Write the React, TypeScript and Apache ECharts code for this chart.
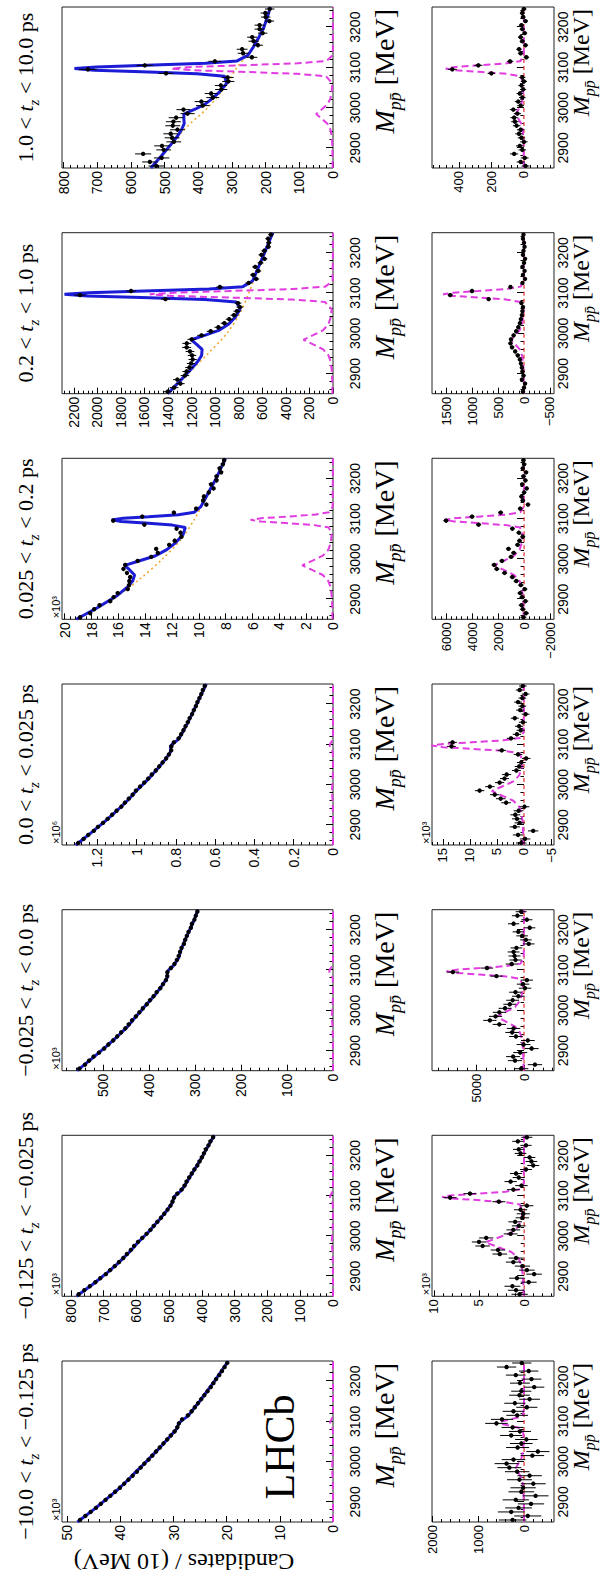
import React, { useEffect, useRef } from "react";
import * as echarts from "echarts";

// ---------------- data ----------------
const BIN_M = [2855, 2865, 2875, 2885, 2895, 2905, 2915, 2925, 2935, 2945, 2955, 2965, 2975, 2985, 2995, 3005, 3015, 3025, 3035, 3045, 3055, 3065, 3075, 3085, 3095, 3105, 3115, 3125, 3135, 3145, 3155, 3165, 3175, 3185, 3195, 3205, 3215, 3225, 3235, 3245];
const CURVE_M = [2850, 2880, 2910, 2930, 2945, 2960, 2972, 2984, 2996, 3008, 3023, 3040, 3060, 3078, 3084, 3089, 3093, 3097, 3101, 3105, 3110, 3116, 3130, 3150, 3175, 3200, 3225, 3250];
const BKG_M = [2850, 2900, 2950, 3000, 3050, 3100, 3150, 3200, 3250];
const M_TICKS = [2900, 3000, 3100, 3200];

const T_LOW = ["\u221210.0", "\u22120.125", "\u22120.025", "0.0", "0.025", "0.2", "1.0"];
const T_HIGH = ["\u22120.125", "\u22120.025", "0.0", "0.025", "0.2", "1.0", "10.0"];

const UP_MAX = [51, 827, 590, 1.38, 20.2, 2300, 805];
const UP_TICKS = [
  [0, 10, 20, 30, 40, 50],
  [0, 100, 200, 300, 400, 500, 600, 700, 800],
  [0, 100, 200, 300, 400, 500],
  [0, 0.2, 0.4, 0.6, 0.8, 1, 1.2],
  [0, 2, 4, 6, 8, 10, 12, 14, 16, 18, 20],
  [0, 200, 400, 600, 800, 1000, 1200, 1400, 1600, 1800, 2000, 2200],
  [0, 100, 200, 300, 400, 500, 600, 700, 800],
];
const UP_MULT = ["\u00d710\u00b3", "\u00d710\u00b3", "\u00d710\u00b3", "\u00d710\u2076", "\u00d710\u00b3", "", ""];

const LO_MIN = [-650, -3.3, -3160, -5.55, -2300, -577, -185];
const LO_MAX = [2000, 10.2, 9700, 17.0, 7080, 1770, 565];
const LO_TICKS = [
  [0, 1000, 2000],
  [0, 5, 10],
  [0, 5000],
  [-5, 0, 5, 10, 15],
  [-2000, 0, 2000, 4000, 6000],
  [-500, 0, 500, 1000, 1500],
  [0, 200, 400],
];
const LO_MULT = ["", "\u00d710\u00b3", "", "\u00d710\u00b3", "", "", ""];

// upper panels: data points
const UP_DATA_0 = [47.6, 46.6, 45.6, 44.6, 43.7, 42.8, 41.9, 41.0, 40.1, 39.3, 38.5, 37.7, 36.9, 36.2, 35.5, 34.7, 34.0, 33.3, 32.6, 31.9, 31.2, 30.5, 29.8, 29.3, 29.0, 28.4, 27.3, 26.6, 26.0, 25.4, 24.8, 24.2, 23.6, 23.0, 22.5, 22.0, 21.4, 20.9, 20.4, 19.9];
const UP_DATA_1 = [776, 759, 742, 725, 710, 693, 680, 666, 653, 640, 629, 617, 607, 595, 582, 569, 557, 547, 536, 525, 515, 505, 496, 490, 485, 475, 462, 453, 447, 439, 431, 423, 414, 407, 400, 394, 388, 380, 374, 366];
const UP_DATA_2 = [552.3, 539.9, 531.0, 521.2, 509.4, 498.2, 489.1, 478.6, 469.9, 461.3, 452.1, 444.6, 437.6, 429.0, 421.6, 414.0, 405.5, 398.2, 390.6, 383.9, 375.9, 370.1, 363.7, 360.9, 360.5, 352.9, 345.3, 339.9, 336.0, 333.1, 329.8, 324.5, 321.8, 318.2, 314.6, 309.4, 307.1, 301.7, 298.7, 295.3];
const UP_DATA_3 = [1.2976, 1.2698, 1.2463, 1.218, 1.197, 1.1709, 1.1475, 1.1249, 1.1022, 1.0779, 1.0599, 1.04, 1.0203, 1.0036, 0.9824, 0.9613, 0.9412, 0.9228, 0.9026, 0.885, 0.8676, 0.8495, 0.8353, 0.8238, 0.8228, 0.8105, 0.7858, 0.7735, 0.7617, 0.7511, 0.7392, 0.73, 0.7176, 0.7088, 0.6983, 0.6903, 0.6804, 0.6707, 0.6629, 0.6532];
const UP_DATA_4 = [18.85, 18.1, 17.8, 17.4, 16.6, 16.35, 16.05, 15.3, 15.2, 15.18, 15.12, 15.36, 15.62, 15.49, 14.56, 13.55, 13.06, 13.18, 12.21, 11.8, 11.3, 11.37, 11.66, 14.06, 16.38, 14.22, 11.86, 10.2, 9.44, 9.68, 9.62, 9.26, 8.9, 9.09, 8.68, 8.68, 8.34, 8.45, 8.21, 8.12];
const UP_DATA_5 = [1403, 1349, 1295, 1321, 1257, 1243, 1219, 1205, 1191, 1197, 1214, 1242, 1241, 1199, 1116, 1038, 973, 922, 881, 840, 815, 790, 806, 1422, 2147, 1714, 960, 716, 652, 678, 634, 660, 615, 581, 607, 583, 549, 545, 551, 527];
const UP_DATA_6 = [525, 544, 509, 564, 503, 508, 473, 478, 482, 462, 476, 474, 466, 432, 444, 387, 391, 357, 362, 332, 333, 311, 313, 496, 728, 559, 351, 241, 267, 270, 223, 236, 240, 209, 218, 218, 189, 200, 201, 188];

const UP_ERR_4 = [0.14, 0.14, 0.14, 0.14, 0.13, 0.13, 0.13, 0.13, 0.13, 0.13, 0.13, 0.13, 0.13, 0.13, 0.13, 0.12, 0.12, 0.12, 0.12, 0.12, 0.11, 0.11, 0.11, 0.12, 0.13, 0.12, 0.11, 0.1, 0.1, 0.1, 0.1, 0.1, 0.1, 0.1, 0.1, 0.1, 0.1, 0.1, 0.09, 0.09];
const UP_ERR_5 = [37, 37, 36, 36, 36, 35, 35, 35, 35, 36, 37, 38, 38, 37, 36, 34, 33, 31, 30, 30, 29, 28, 29, 38, 47, 41, 31, 27, 26, 26, 25, 26, 25, 24, 25, 24, 23, 23, 23, 23];
const UP_ERR_6 = [23, 23, 23, 24, 22, 23, 22, 22, 22, 22, 22, 22, 22, 21, 21, 20, 20, 19, 19, 18, 18, 18, 18, 22, 27, 24, 19, 16, 16, 16, 15, 15, 15, 14, 15, 15, 14, 14, 14, 14];

// upper panels: total fit (at CURVE_M)
const UP_FIT_0 = [48.1, 45.1, 42.36, 40.56, 39.33, 38.16, 37.32, 36.38, 35.42, 34.56, 33.43, 32.21, 30.86, 29.63, 29.32, 29.2, 29.06, 28.87, 28.56, 28.15, 27.62, 27.12, 26.3, 25.1, 23.7, 22.3, 21.0, 19.7];
const UP_FIT_1 = [783, 733, 687, 659, 640, 621, 608, 595, 580, 565, 549, 530, 510, 493.5, 489, 488, 487, 485, 480, 474, 467, 460, 449, 434, 415, 397, 380, 362];
const UP_FIT_2 = [557.0, 525.1, 494.1, 474.2, 460.4, 447.0, 437.9, 429.9, 419.9, 411.0, 399.4, 386.2, 373.1, 362.4, 359.9, 360.7, 361.1, 360.2, 357.1, 353.7, 347.8, 344.4, 336.0, 331.0, 322.0, 312.0, 302.0, 294.0];
const UP_FIT_3 = [1.3101, 1.2322, 1.1583, 1.1126, 1.079, 1.0473, 1.0246, 1.003, 0.9776, 0.9523, 0.9231, 0.8925, 0.8583, 0.831, 0.8266, 0.8266, 0.8276, 0.8251, 0.8175, 0.8065, 0.7935, 0.7829, 0.766, 0.744, 0.718, 0.694, 0.67, 0.645];
const UP_FIT_4 = [19.13, 17.5, 16.05, 15.33, 14.93, 14.79, 15.14, 15.52, 14.35, 13.22, 12.39, 11.74, 11.18, 11.01, 11.98, 14.02, 15.78, 16.5, 15.64, 13.74, 11.52, 10.33, 9.85, 9.52, 9.12, 8.71, 8.36, 8.01];
const UP_FIT_5 = [1404, 1304, 1207, 1148, 1115, 1111, 1155, 1202, 1078, 963, 884, 830, 789, 821, 1090, 1626, 2084, 2279, 2073, 1603, 1052, 765, 683, 653, 617, 581, 546, 511];
const UP_FIT_6 = [541, 510, 480, 461, 450, 442, 443, 443, 410, 381, 358, 336, 316, 322, 404, 568, 709, 768, 702, 554, 379, 285, 253, 237, 220, 205, 195, 186];

// upper panels: signal components (at CURVE_M)
const UP_SIG_0 = [0.003, 0.004, 0.008, 0.014, 0.027, 0.059, 0.119, 0.18, 0.119, 0.059, 0.027, 0.014, 0.008, 0.026, 0.119, 0.3, 0.456, 0.524, 0.455, 0.299, 0.117, 0.024, 0.002, 0.002, 0.001, 0.001, 0.001, 0.001];
const UP_SIG_1 = [0.06, 0.1, 0.19, 0.34, 0.65, 1.42, 2.84, 4.3, 2.84, 1.42, 0.65, 0.32, 0.18, 0.48, 2.09, 5.23, 7.92, 9.09, 7.91, 5.21, 2.05, 0.43, 0.05, 0.04, 0.03, 0.02, 0.02, 0.01];
const UP_SIG_2 = [0.04, 0.07, 0.13, 0.23, 0.44, 0.96, 1.91, 2.9, 1.91, 0.96, 0.44, 0.22, 0.13, 0.41, 1.86, 4.68, 7.11, 8.16, 7.1, 4.67, 1.83, 0.37, 0.04, 0.03, 0.02, 0.02, 0.01, 0.01];
const UP_SIG_3 = [0.0001, 0.0001, 0.0003, 0.0005, 0.0009, 0.002, 0.0039, 0.006, 0.0039, 0.002, 0.0009, 0.0005, 0.0003, 0.0009, 0.0039, 0.0098, 0.0149, 0.0171, 0.0149, 0.0098, 0.0038, 0.0008, 0.0001, 0.0001, 0, 0, 0, 0];
const UP_SIG_4 = [0.032, 0.053, 0.104, 0.184, 0.345, 0.759, 1.518, 2.3, 1.518, 0.759, 0.345, 0.173, 0.099, 0.308, 1.4, 3.53, 5.355, 6.146, 5.351, 3.518, 1.381, 0.281, 0.028, 0.023, 0.016, 0.012, 0.009, 0.007];
const UP_SIG_5 = [4, 6, 11, 20, 38, 83, 165, 250, 165, 83, 38, 19, 11, 69, 347, 890, 1354, 1555, 1354, 889, 345, 66, 3, 3, 2, 1, 1, 1];
const UP_SIG_6 = [0.7, 1.2, 2.3, 4, 7.5, 16.5, 33, 50, 33, 16.5, 7.5, 3.8, 2.2, 20.6, 107, 275, 419, 481, 419, 275, 106, 20, 0.6, 0.5, 0.4, 0.3, 0.2, 0.2];

// upper panels: background (at BKG_M), shown where it separates from the total
const UP_BKG_4 = [19.1, 16.4, 14.4, 12.7, 11.3, 10.3, 9.5, 8.7, 8.0];
const UP_BKG_5 = [1400, 1230, 1060, 900, 790, 715, 650, 580, 510];
const UP_BKG_6 = [540, 488, 437, 372, 322, 285, 236, 205, 186];

// lower panels: background-subtracted data
const LO_DATA_0 = [250, -80, 280, 120, -150, 180, -250, 60, 20, -200, 100, -120, 150, 320, 380, 230, -180, -300, 140, 60, -50, 280, 90, 250, 600, 480, 150, 230, -60, 200, -120, 100, 60, -220, 90, -160, 180, -100, 380, 50];
const LO_DATA_1 = [0.5, 0.9, 1.3, -0.5, 0.8, -1.1, -0.3, 0.2, 1.2, 0.9, 2.7, 2.9, 4.6, 5.0, 4.2, 1.5, 1.2, 0.6, 1.0, 0.2, 0.1, 0.4, -0.3, 2.8, 8.2, 6.0, 1.2, 0.3, 1.5, 0.6, 0.9, -0.2, -1.0, -0.8, -0.6, 0.4, 0.6, -0.2, 0.7, -0.3];
const LO_DATA_2 = [300, -1150, 950, 1150, 400, -800, 50, -400, 850, 1250, 1100, 2600, 3600, 3000, 2600, 2000, 1500, 1200, 600, 900, -100, 100, -300, 2900, 7500, 3900, 1300, 900, 1000, 1100, 800, -500, -200, 200, 600, -600, 1100, -300, 700, 300];
const LO_DATA_3 = [0.5, -0.2, 1.1, -1.7, 1.7, 0.8, 1.3, 1.6, 1.0, -0.1, 3.3, 4.3, 5.4, 8.2, 6.3, 4.5, 3.6, 3.2, 1.4, 0.9, 0.5, -0.4, 1.1, 4.1, 13.4, 13.2, 2.4, 1.3, 0.6, 0.9, 0.2, 1.7, -0.3, 0.7, 0.3, 1.1, 0.3, -0.3, 0.8, 0.2];
const LO_DATA_4 = [50, -150, 100, 200, -100, 150, 300, -50, 250, 600, 900, 1500, 2100, 2300, 1700, 1000, 800, 1200, 500, 350, 100, 400, 900, 3500, 6000, 4000, 1800, 300, -300, 100, 200, 0, -200, 150, -100, 50, -150, 100, 0, 50];
const LO_DATA_5 = [20, 0, -20, 40, 10, 30, 40, 60, 80, 120, 170, 230, 260, 250, 200, 150, 110, 80, 60, 40, 30, 20, 50, 680, 1420, 1000, 260, 30, -20, 20, -10, 30, 0, -20, 20, 10, -10, 0, 20, 10];
const LO_DATA_6 = [-10, 20, -5, 60, 10, 25, 0, 15, 30, 20, 45, 55, 60, 40, 65, 20, 35, 10, 25, 5, 15, 0, 10, 200, 440, 280, 85, -15, 20, 30, -10, 10, 20, -5, 10, 15, -10, 5, 10, 0];

const LO_ERR_0 = [300, 295, 290, 290, 285, 285, 280, 280, 275, 270, 270, 265, 265, 260, 260, 255, 255, 250, 250, 245, 245, 240, 240, 240, 245, 240, 235, 235, 230, 230, 225, 225, 220, 220, 215, 215, 215, 210, 210, 210];
const LO_ERR_1 = [0.9, 0.9, 0.88, 0.88, 0.86, 0.86, 0.85, 0.84, 0.83, 0.82, 0.81, 0.8, 0.8, 0.79, 0.78, 0.77, 0.76, 0.76, 0.75, 0.74, 0.73, 0.73, 0.72, 0.72, 0.73, 0.71, 0.7, 0.69, 0.68, 0.68, 0.67, 0.66, 0.66, 0.65, 0.64, 0.64, 0.63, 0.62, 0.62, 0.61];
const LO_ERR_2 = [760, 755, 750, 745, 740, 735, 730, 725, 720, 715, 710, 705, 700, 695, 690, 685, 680, 675, 670, 665, 660, 655, 650, 650, 660, 645, 640, 635, 630, 625, 620, 615, 610, 605, 600, 595, 590, 585, 580, 575];
const LO_ERR_3 = [0.98, 0.97, 0.96, 0.95, 0.94, 0.94, 0.93, 0.92, 0.91, 0.9, 0.89, 0.88, 0.88, 0.87, 0.86, 0.85, 0.84, 0.83, 0.82, 0.82, 0.81, 0.8, 0.79, 0.79, 0.81, 0.79, 0.77, 0.77, 0.76, 0.75, 0.75, 0.74, 0.73, 0.73, 0.72, 0.71, 0.71, 0.71, 0.71, 0.7];
const LO_ERR_4 = [230, 225, 225, 220, 220, 215, 215, 210, 210, 210, 210, 210, 210, 210, 205, 200, 200, 200, 195, 195, 190, 190, 190, 200, 215, 200, 190, 180, 180, 180, 175, 175, 175, 170, 170, 170, 165, 165, 165, 160];
const LO_ERR_5 = [40, 40, 39, 39, 38, 38, 38, 37, 37, 38, 39, 40, 40, 39, 38, 37, 36, 35, 34, 33, 32, 32, 32, 40, 48, 43, 34, 30, 29, 29, 28, 29, 28, 27, 28, 27, 26, 26, 26, 26];
const LO_ERR_6 = [24, 24, 24, 25, 23, 24, 23, 23, 23, 23, 23, 23, 23, 22, 22, 21, 21, 20, 20, 19, 19, 19, 19, 23, 28, 25, 20, 17, 17, 17, 16, 16, 16, 15, 16, 16, 15, 15, 15, 15];

// lower panels: signal curves (at CURVE_M)
const LO_SIG_0 = [3, 4, 8, 14, 27, 59, 119, 180, 119, 59, 27, 14, 8, 26, 119, 300, 456, 524, 455, 299, 117, 24, 2, 2, 1, 1, 1, 1];
const LO_SIG_1 = UP_SIG_1;
const LO_SIG_2 = [41, 67, 131, 232, 435, 957, 1914, 2900, 1914, 957, 435, 218, 125, 405, 1855, 4684, 7108, 8158, 7102, 4669, 1831, 370, 35, 29, 20, 15, 12, 9];
const LO_SIG_3 = [0.09, 0.14, 0.27, 0.48, 0.89, 1.96, 3.93, 5.95, 3.93, 1.96, 0.89, 0.45, 0.26, 0.85, 3.89, 9.83, 14.92, 17.12, 14.9, 9.8, 3.84, 0.77, 0.07, 0.06, 0.04, 0.03, 0.03, 0.02];
const LO_SIG_4 = [32, 53, 104, 184, 345, 759, 1518, 2300, 1518, 759, 345, 173, 99, 308, 1400, 3530, 5355, 6146, 5351, 3518, 1381, 281, 28, 23, 16, 12, 9, 7];
const LO_SIG_5 = UP_SIG_5;
const LO_SIG_6 = UP_SIG_6;

const UP_DATA = [UP_DATA_0, UP_DATA_1, UP_DATA_2, UP_DATA_3, UP_DATA_4, UP_DATA_5, UP_DATA_6];
const UP_ERR = [null, null, null, null, UP_ERR_4, UP_ERR_5, UP_ERR_6];
const UP_FIT = [UP_FIT_0, UP_FIT_1, UP_FIT_2, UP_FIT_3, UP_FIT_4, UP_FIT_5, UP_FIT_6];
const UP_SIG = [UP_SIG_0, UP_SIG_1, UP_SIG_2, UP_SIG_3, UP_SIG_4, UP_SIG_5, UP_SIG_6];
const UP_BKG = [null, null, null, null, UP_BKG_4, UP_BKG_5, UP_BKG_6];
const LO_DATA = [LO_DATA_0, LO_DATA_1, LO_DATA_2, LO_DATA_3, LO_DATA_4, LO_DATA_5, LO_DATA_6];
const LO_ERR = [LO_ERR_0, LO_ERR_1, LO_ERR_2, LO_ERR_3, LO_ERR_4, LO_ERR_5, LO_ERR_6];
const LO_SIG = [LO_SIG_0, LO_SIG_1, LO_SIG_2, LO_SIG_3, LO_SIG_4, LO_SIG_5, LO_SIG_6];

// ---------------- layout (landscape canvas, rotated on the page) ----------------
const W = 1578;
const H = 600;
const COL_LEFT = [56, 281.7, 507.3, 733, 958.7, 1184.3, 1410];
const PANEL_W = 161;
const UP_TOP = 62;
const UP_H = 271;
const LO_TOP = 432;
const LO_H = 122;

const C_BLUE = "#1c1cd6";
const C_MAG = "#e03ce0";
const C_BKG = "#f0a830";
const C_ZERO = "#dd3333";
const SERIF = "'Liberation Serif', 'DejaVu Serif', serif";
const SANS = "'Liberation Sans', Arial, sans-serif";

function fmt(v: number): string {
  const s = String(Math.round(v * 1e6) / 1e6);
  return s.charAt(0) === "-" ? "\u2212" + s.slice(1) : s;
}

function minorValues(min: number, max: number, step: number, majors: number[]): number[] {
  const out: number[] = [];
  const ms = step / 5;
  let i = Math.ceil(min / ms - 1e-9);
  for (; i * ms <= max + 1e-9; i++) {
    const v = Math.round(i * ms * 1e6) / 1e6;
    if (!majors.some((m) => Math.abs(m - v) < ms * 0.01) && Math.abs(Math.round(v / step) * step - v) > ms * 0.01) out.push(v);
  }
  return out;
}

const M_MINOR = minorValues(2850, 3250, 100, M_TICKS);

function pointsRender(params: any, api: any) {
  const m = api.value(0);
  const v = api.value(1);
  const e = api.value(2);
  const c = api.coord([m, v]);
  const l = api.coord([m - 5, v]);
  const r = api.coord([m + 5, v]);
  const children: any[] = [];
  if (e > 0) {
    const lo = api.coord([m, v - e]);
    const hi = api.coord([m, v + e]);
    children.push({ type: "line", shape: { x1: c[0], y1: lo[1], x2: c[0], y2: hi[1] }, style: { stroke: "#000", lineWidth: 1 } });
  }
  children.push({ type: "line", shape: { x1: l[0], y1: c[1], x2: r[0], y2: c[1] }, style: { stroke: "#000", lineWidth: 1 } });
  children.push({ type: "circle", shape: { cx: c[0], cy: c[1], r: 2.2 }, style: { fill: "#000" } });
  return { type: "group", children };
}

function massTitle(x: number, y: number, fs: number, ss: number, pad: number) {
  return {
    type: "text",
    x,
    y,
    silent: true,
    style: {
      text: "{i|M}{s|pp\u0304}{n| [MeV]}",
      align: "right",
      verticalAlign: "middle",
      fill: "#000",
      rich: {
        i: { fontFamily: SERIF, fontStyle: "italic", fontSize: fs, padding: [0, 0, pad, 0], verticalAlign: "bottom", fill: "#000" },
        s: { fontFamily: SERIF, fontStyle: "italic", fontSize: ss, verticalAlign: "bottom", fill: "#000" },
        n: { fontFamily: SERIF, fontSize: fs, padding: [0, 0, pad, 0], verticalAlign: "bottom", fill: "#000" },
      },
    },
  };
}

function buildOption() {
  const grid: any[] = [];
  const xAxis: any[] = [];
  const yAxis: any[] = [];
  const series: any[] = [];
  const graphic: any[] = [];

  for (let k = 0; k < 7; k++) {
    for (let r = 0; r < 2; r++) {
      const g = 2 * k + r;
      const upper = r === 0;
      grid.push({
        left: COL_LEFT[k],
        top: upper ? UP_TOP : LO_TOP,
        width: PANEL_W,
        height: upper ? UP_H : LO_H,
        show: true,
        borderColor: "#222",
        borderWidth: 1,
        backgroundColor: "transparent",
        containLabel: false,
        outerBoundsMode: "none",
      });
      const ymin = upper ? 0 : LO_MIN[k];
      const ymax = upper ? UP_MAX[k] : LO_MAX[k];
      const ticks = upper ? UP_TICKS[k] : LO_TICKS[k];
      const ystep = ticks[1] - ticks[0];
      const yMinor = minorValues(ymin, ymax, ystep, ticks);

      xAxis.push({
        type: "value",
        gridIndex: g,
        position: "bottom",
        min: 2850,
        max: 3250,
        axisLine: { show: false },
        splitLine: { show: false },
        axisTick: { show: true, inside: true, length: 7, customValues: M_TICKS, lineStyle: { color: "#000", width: 1 } },
        axisLabel: {
          show: true,
          customValues: M_TICKS,
          margin: upper ? 15 : 2,
          fontSize: 14,
          fontFamily: SANS,
          color: "#000",
          formatter: (v: number) => fmt(v),
        },
      });
      xAxis.push({
        type: "value",
        gridIndex: g,
        position: "bottom",
        min: 2850,
        max: 3250,
        axisLine: { show: false },
        splitLine: { show: false },
        axisTick: { show: true, inside: true, length: 3.5, customValues: M_MINOR, lineStyle: { color: "#000", width: 1 } },
        axisLabel: { show: false },
      });
      yAxis.push({
        type: "value",
        gridIndex: g,
        position: "left",
        min: ymin,
        max: ymax,
        axisLine: { show: false },
        splitLine: { show: false },
        axisTick: { show: true, inside: true, length: 6, customValues: ticks, lineStyle: { color: "#000", width: 1 } },
        axisLabel: {
          show: true,
          customValues: ticks,
          margin: 3,
          fontSize: upper ? 14 : 13,
          fontFamily: SANS,
          color: "#000",
          formatter: (v: number) => fmt(v),
        },
      });
      yAxis.push({
        type: "value",
        gridIndex: g,
        position: "left",
        min: ymin,
        max: ymax,
        axisLine: { show: false },
        splitLine: { show: false },
        axisTick: { show: true, inside: true, length: 3, customValues: yMinor, lineStyle: { color: "#000", width: 1 } },
        axisLabel: { show: false },
      });

      const xi = 2 * g;
      const yi = 2 * g;
      const lineBase = { type: "line", xAxisIndex: xi, yAxisIndex: yi, symbol: "none", showSymbol: false, silent: true, clip: true, z: 2 };

      if (upper) {
        const bkg = UP_BKG[k];
        if (bkg) {
          series.push({ ...lineBase, smooth: 0.3, data: BKG_M.map((m, i) => [m, bkg[i]]), lineStyle: { color: C_BKG, width: 1.6, type: [2, 3] } });
        }
        const sig = UP_SIG[k];
        series.push({ ...lineBase, data: CURVE_M.map((m, i) => [m, sig[i]]), lineStyle: { color: C_MAG, width: 2, type: [7, 4] } });
        const fit = UP_FIT[k];
        series.push({ ...lineBase, z: 3, data: CURVE_M.map((m, i) => [m, fit[i]]), lineStyle: { color: C_BLUE, width: 3 } });
        const d = UP_DATA[k];
        const e = UP_ERR[k];
        series.push({
          type: "custom",
          xAxisIndex: xi,
          yAxisIndex: yi,
          clip: true,
          silent: true,
          z: 4,
          renderItem: pointsRender,
          encode: { x: 0, y: 1 },
          data: BIN_M.map((m, i) => [m, d[i], e ? e[i] : 0]),
        });
      } else {
        series.push({ ...lineBase, data: [[2850, 0], [3250, 0]], lineStyle: { color: C_ZERO, width: 1.2, type: [4, 3] } });
        const sig = LO_SIG[k];
        series.push({ ...lineBase, data: CURVE_M.map((m, i) => [m, sig[i]]), lineStyle: { color: C_MAG, width: 2, type: [7, 4] } });
        const d = LO_DATA[k];
        const e = LO_ERR[k];
        series.push({
          type: "custom",
          xAxisIndex: xi,
          yAxisIndex: yi,
          clip: true,
          silent: true,
          z: 4,
          renderItem: pointsRender,
          encode: { x: 0, y: 1 },
          data: BIN_M.map((m, i) => [m, d[i], e[i]]),
        });
      }
    }

    // column title
    graphic.push({
      type: "text",
      x: COL_LEFT[k] + PANEL_W / 2,
      y: 28,
      silent: true,
      style: {
        text: `{n|${T_LOW[k]} < }{i|t}{s|z}{n| < ${T_HIGH[k]} ps}`,
        align: "center",
        verticalAlign: "middle",
        fill: "#000",
        rich: {
          n: { fontFamily: SERIF, fontSize: 22, padding: [0, 0, 5, 0], verticalAlign: "bottom", fill: "#000" },
          i: { fontFamily: SERIF, fontStyle: "italic", fontSize: 22, padding: [0, 0, 5, 0], verticalAlign: "bottom", fill: "#000" },
          s: { fontFamily: SERIF, fontStyle: "italic", fontSize: 15, verticalAlign: "bottom", fill: "#000" },
        },
      },
    });
    // mass axis titles
    graphic.push(massTitle(COL_LEFT[k] + PANEL_W - 2, 387, 28, 18, 6));
    graphic.push(massTitle(COL_LEFT[k] + PANEL_W - 2, 583, 24, 16, 4));
    if (UP_MULT[k]) {
      graphic.push({ type: "text", x: COL_LEFT[k] + 1, y: UP_TOP - 6, silent: true, style: { text: UP_MULT[k], font: `11px ${SANS}`, fill: "#000", align: "left", verticalAlign: "middle" } });
    }
    if (LO_MULT[k]) {
      graphic.push({ type: "text", x: COL_LEFT[k] + 1, y: LO_TOP - 6, silent: true, style: { text: LO_MULT[k], font: `11px ${SANS}`, fill: "#000", align: "left", verticalAlign: "middle" } });
    }
  }

  graphic.push({
    type: "text",
    x: 16,
    y: 184,
    rotation: Math.PI / 2,
    silent: true,
    style: { text: "Candidates / (10 MeV)", font: `24px ${SERIF}`, fill: "#000", align: "center", verticalAlign: "middle" },
  });
  graphic.push({
    type: "text",
    x: 131,
    y: 280,
    silent: true,
    style: { text: "LHCb", font: `42px ${SERIF}`, fill: "#000", align: "center", verticalAlign: "middle" },
  });

  return {
    animation: false,
    backgroundColor: "#fff",
    textStyle: { fontFamily: SANS },
    grid,
    xAxis,
    yAxis,
    series,
    graphic,
  };
}

export default function App() {
  const ref = useRef<HTMLDivElement>(null);
  useEffect(() => {
    document.body.style.margin = "0";
    const el = ref.current;
    if (!el) return;
    const chart = echarts.init(el, undefined, { renderer: "svg", width: W, height: H });
    chart.setOption(buildOption() as any);
    return () => {
      chart.dispose();
    };
  }, []);
  return (
    <div style={{ position: "absolute", left: 0, top: 0, width: 600, height: 1578, overflow: "hidden", background: "#fff" }}>
      <div
        ref={ref}
        style={{
          position: "absolute",
          left: 0,
          top: 0,
          width: W,
          height: H,
          transformOrigin: "0 0",
          transform: `translateY(${W}px) rotate(-90deg)`,
        }}
      />
    </div>
  );
}
